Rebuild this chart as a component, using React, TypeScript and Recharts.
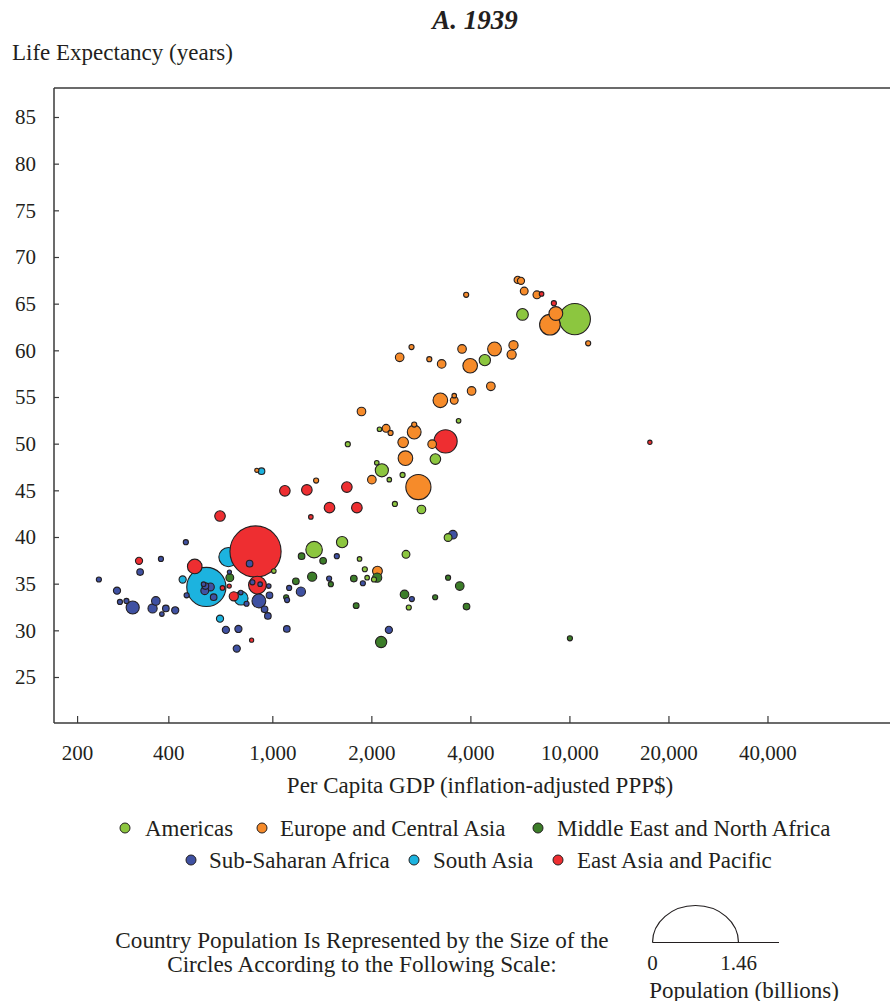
import React from 'react';
import { ScatterChart, Scatter, XAxis, YAxis, ZAxis, Cell, ReferenceLine } from 'recharts';

type Pt = { gdp: number; life: number; pop: number };

// ---- data (GDP per capita, life expectancy, population in millions)
const americas: Pt[] = [
  { gdp: 8280, life: 63.4, pop: 189 },
  { gdp: 5740, life: 63.9, pop: 24 },
  { gdp: 4410, life: 59.0, pop: 22 },
  { gdp: 3670, life: 52.5, pop: 1 },
  { gdp: 2110, life: 51.6, pop: 1 },
  { gdp: 3120, life: 48.4, pop: 19 },
  { gdp: 1690, life: 50.0, pop: 2 },
  { gdp: 2070, life: 48.0, pop: 1 },
  { gdp: 2145, life: 47.2, pop: 31 },
  { gdp: 2260, life: 46.2, pop: 1 },
  { gdp: 2480, life: 46.7, pop: 2 },
  { gdp: 2350, life: 43.6, pop: 2 },
  { gdp: 2830, life: 43.0, pop: 11.5 },
  { gdp: 3410, life: 40.0, pop: 9 },
  { gdp: 1335, life: 38.7, pop: 51 },
  { gdp: 1624, life: 39.5, pop: 22 },
  { gdp: 1835, life: 37.7, pop: 1 },
  { gdp: 1904, life: 36.6, pop: 2 },
  { gdp: 1935, life: 35.7, pop: 1 },
  { gdp: 2030, life: 35.5, pop: 2 },
  { gdp: 1007, life: 36.4, pop: 1 },
  { gdp: 2540, life: 38.2, pop: 9 },
  { gdp: 2590, life: 32.5, pop: 2 },
];

const europeCentralAsia: Pt[] = [
  { gdp: 5550, life: 67.6, pop: 7 },
  { gdp: 5680, life: 67.5, pop: 7 },
  { gdp: 5810, life: 66.4, pop: 9 },
  { gdp: 6350, life: 66.0, pop: 9 },
  { gdp: 3870, life: 66.0, pop: 2 },
  { gdp: 7250, life: 64.0, pop: 34.5 },
  { gdp: 6955, life: 62.8, pop: 81 },
  { gdp: 9090, life: 60.8, pop: 2 },
  { gdp: 2640, life: 60.4, pop: 2 },
  { gdp: 2430, life: 59.3, pop: 11.5 },
  { gdp: 2990, life: 59.1, pop: 2 },
  { gdp: 3260, life: 58.6, pop: 11.5 },
  { gdp: 3760, life: 60.2, pop: 11.5 },
  { gdp: 4720, life: 60.2, pop: 34.5 },
  { gdp: 5390, life: 60.6, pop: 13.6 },
  { gdp: 5320, life: 59.6, pop: 13.6 },
  { gdp: 3980, life: 58.4, pop: 39 },
  { gdp: 3230, life: 54.7, pop: 39 },
  { gdp: 3560, life: 54.7, pop: 9 },
  { gdp: 3560, life: 55.2, pop: 1 },
  { gdp: 4020, life: 55.7, pop: 11.5 },
  { gdp: 4600, life: 56.2, pop: 11.5 },
  { gdp: 2690, life: 52.1, pop: 2 },
  { gdp: 1860, life: 53.5, pop: 11.5 },
  { gdp: 2210, life: 51.7, pop: 9 },
  { gdp: 2280, life: 51.2, pop: 2 },
  { gdp: 2690, life: 51.3, pop: 34.5 },
  { gdp: 2490, life: 50.2, pop: 19 },
  { gdp: 3050, life: 50.0, pop: 11.5 },
  { gdp: 2530, life: 48.5, pop: 39 },
  { gdp: 2000, life: 46.2, pop: 11.5 },
  { gdp: 2770, life: 45.4, pop: 122 },
  { gdp: 1354, life: 46.1, pop: 2 },
  { gdp: 2080, life: 36.4, pop: 16 },
  { gdp: 894, life: 47.2, pop: 0.3 },
];

const middleEastNorthAfrica: Pt[] = [
  { gdp: 740, life: 35.7, pop: 9 },
  { gdp: 1223, life: 38.0, pop: 5.5 },
  { gdp: 1422, life: 37.5, pop: 5.5 },
  { gdp: 2076, life: 35.7, pop: 13.6 },
  { gdp: 1763, life: 35.6, pop: 5.5 },
  { gdp: 1317, life: 35.8, pop: 13.6 },
  { gdp: 1501, life: 35.0, pop: 2 },
  { gdp: 1175, life: 35.3, pop: 5.5 },
  { gdp: 1098, life: 33.6, pop: 2 },
  { gdp: 3410, life: 35.7, pop: 2 },
  { gdp: 3700, life: 34.8, pop: 11.5 },
  { gdp: 2514, life: 33.9, pop: 11.5 },
  { gdp: 3115, life: 33.6, pop: 2 },
  { gdp: 3880, life: 32.6, pop: 5.5 },
  { gdp: 1792, life: 32.7, pop: 3.5 },
  { gdp: 2134, life: 28.8, pop: 22 },
  { gdp: 8000, life: 29.2, pop: 2 },
];

const subSaharanAfrica: Pt[] = [
  { gdp: 3527, life: 40.3, pop: 11.5 },
  { gdp: 850, life: 37.2, pop: 5.5 },
  { gdp: 544, life: 39.5, pop: 2 },
  { gdp: 457, life: 37.7, pop: 2 },
  { gdp: 395, life: 36.3, pop: 5.5 },
  { gdp: 624, life: 34.8, pop: 5.5 },
  { gdp: 646, life: 34.7, pop: 9 },
  { gdp: 621, life: 34.3, pop: 9 },
  { gdp: 661, life: 33.6, pop: 5.5 },
  { gdp: 616, life: 35.0, pop: 1 },
  { gdp: 547, life: 33.8, pop: 2 },
  { gdp: 296, life: 35.5, pop: 2 },
  { gdp: 336, life: 34.3, pop: 7 },
  { gdp: 343, life: 33.1, pop: 2 },
  { gdp: 359, life: 33.2, pop: 2 },
  { gdp: 375, life: 32.5, pop: 31 },
  { gdp: 441, life: 33.2, pop: 11.5 },
  { gdp: 431, life: 32.4, pop: 13.6 },
  { gdp: 473, life: 32.4, pop: 5.5 },
  { gdp: 460, life: 31.8, pop: 1 },
  { gdp: 505, life: 32.2, pop: 7 },
  { gdp: 738, life: 36.3, pop: 0.3 },
  { gdp: 799, life: 34.1, pop: 1 },
  { gdp: 832, life: 32.9, pop: 2 },
  { gdp: 867, life: 35.2, pop: 2 },
  { gdp: 915, life: 35.0, pop: 1 },
  { gdp: 972, life: 34.8, pop: 1 },
  { gdp: 907, life: 33.2, pop: 34.5 },
  { gdp: 977, life: 33.8, pop: 5.5 },
  { gdp: 944, life: 32.3, pop: 5.5 },
  { gdp: 966, life: 31.6, pop: 5.5 },
  { gdp: 1121, life: 34.6, pop: 2 },
  { gdp: 1105, life: 33.3, pop: 2 },
  { gdp: 1103, life: 30.2, pop: 5.5 },
  { gdp: 720, life: 30.1, pop: 7 },
  { gdp: 786, life: 30.2, pop: 7 },
  { gdp: 777, life: 28.1, pop: 7 },
  { gdp: 1565, life: 38.0, pop: 2 },
  { gdp: 1878, life: 35.1, pop: 2 },
  { gdp: 1483, life: 35.6, pop: 2 },
  { gdp: 1217, life: 34.2, pop: 13.6 },
  { gdp: 2646, life: 33.4, pop: 2 },
  { gdp: 2253, life: 30.1, pop: 7 },
];

const southAsia: Pt[] = [
  { gdp: 628, life: 34.7, pop: 301 },
  { gdp: 733, life: 37.9, pop: 70 },
  { gdp: 532, life: 35.5, pop: 7 },
  { gdp: 801, life: 33.5, pop: 34.5 },
  { gdp: 691, life: 31.3, pop: 7 },
  { gdp: 924, life: 47.1, pop: 5.5 },
];

const eastAsiaPacific: Pt[] = [
  { gdp: 886, life: 38.5, pop: 515 },
  { gdp: 579, life: 36.9, pop: 39 },
  { gdp: 898, life: 34.9, pop: 59.5 },
  { gdp: 761, life: 33.7, pop: 13.6 },
  { gdp: 737, life: 34.8, pop: 0.3 },
  { gdp: 703, life: 34.6, pop: 1 },
  { gdp: 392, life: 37.5, pop: 7 },
  { gdp: 691, life: 42.3, pop: 19 },
  { gdp: 1088, life: 45.0, pop: 19 },
  { gdp: 1269, life: 45.1, pop: 19 },
  { gdp: 1679, life: 45.4, pop: 19 },
  { gdp: 1487, life: 43.2, pop: 19 },
  { gdp: 1801, life: 43.2, pop: 19 },
  { gdp: 1305, life: 42.2, pop: 1 },
  { gdp: 3351, life: 50.3, pop: 103 },
  { gdp: 6560, life: 66.1, pop: 1 },
  { gdp: 7150, life: 65.1, pop: 2 },
  { gdp: 862, life: 29.0, pop: 0.3 },
  { gdp: 14000, life: 50.2, pop: 0.5 },
];

const regionNames = [
  'Americas',
  'Europe and Central Asia',
  'Middle East and North Africa',
  'Sub-Saharan Africa',
  'South Asia',
  'East Asia and Pacific',
];
const regionData = [americas, europeCentralAsia, middleEastNorthAfrica, subSaharanAfrica, southAsia, eastAsiaPacific];
const regionColors = ['#8cc63f', '#f68b2a', '#3c7d29', '#3f51a2', '#1cb3df', '#ee2e31'];

const xTicks = [255, 483, 1000, 2000, 4000, 8000, 16000, 32000];
const xTickLabels = ['200', '400', '1,000', '2,000', '4,000', '10,000', '20,000', '40,000'];
const yTicks = [25, 30, 35, 40, 45, 50, 55, 60, 65, 70, 75, 80, 85];

const X_DOMAIN: [number, number] = [216.2, 75170];
const Y_DOMAIN: [number, number] = [20.125, 88.16];
const POP_MAX = 1460; // 1.46 billion

const FONT = '"Liberation Serif", "Times New Roman", serif';
const INK = '#231f20';
const AXIS = '#3a3a3a';

type Row = Pt & { region: number };
const allPoints: Row[] = regionData.flatMap((arr, region) => arr.map((p) => ({ ...p, region })));
// draw larger bubbles first so small ones stay visible; the very largest bubble sits just above mid-size ones
const drawKey = (p: Row) => (p.pop > 400 ? 65 : p.pop);
const drawList = [...allPoints].sort((a, b) => drawKey(b) - drawKey(a));

const XTick = (props: any) => {
  const { x, y, payload } = props;
  const i = xTicks.indexOf(payload.value);
  return (
    <g>
      <line x1={x} x2={x} y1={y} y2={y - 7} stroke={AXIS} strokeWidth={1.2} />
      <text x={x} y={y + 37} textAnchor="middle" fontFamily={FONT} fontSize={21} fill={INK}>
        {xTickLabels[i]}
      </text>
    </g>
  );
};

const YTick = (props: any) => {
  const { x, y, payload } = props;
  return (
    <g>
      <line x1={x} x2={x + 5} y1={y} y2={y} stroke={AXIS} strokeWidth={1.2} />
      <text x={x - 18} y={y + 7} textAnchor="end" fontFamily={FONT} fontSize={21} fill={INK}>
        {payload.value}
      </text>
    </g>
  );
};

const legendRows = [
  [
    { idx: 0, cx: 125, tx: 145 },
    { idx: 1, cx: 262, tx: 280 },
    { idx: 2, cx: 538, tx: 557 },
  ],
  [
    { idx: 3, cx: 191, tx: 209 },
    { idx: 4, cx: 414, tx: 433 },
    { idx: 5, cx: 558, tx: 577 },
  ],
];
const legendRowY = [829, 861];

export default function App() {
  return (
    <div
      style={{
        position: 'absolute',
        left: 0,
        top: 0,
        width: 890,
        height: 1001,
        overflow: 'hidden',
        background: '#fff',
      }}
    >
      <ScatterChart width={890} height={810} margin={{ top: 88, right: 0, bottom: 27, left: 0 }}>
        <XAxis
          dataKey="gdp"
          type="number"
          scale="log"
          domain={X_DOMAIN}
          allowDataOverflow
          ticks={xTicks}
          interval={0}
          tick={<XTick />}
          tickLine={false}
          tickSize={0}
          tickMargin={0}
          height={60}
          axisLine={{ stroke: AXIS, strokeWidth: 1.5 }}
        />
        <YAxis
          dataKey="life"
          type="number"
          domain={Y_DOMAIN}
          allowDataOverflow
          ticks={yTicks}
          interval={0}
          tick={<YTick />}
          tickLine={false}
          tickSize={0}
          tickMargin={0}
          width={54}
          axisLine={{ stroke: AXIS, strokeWidth: 1.5 }}
        />
        <ZAxis dataKey="pop" type="number" domain={[0, POP_MAX]} range={[4 * Math.PI, 43 * 43 * Math.PI]} />
        <ReferenceLine y={Y_DOMAIN[1]} stroke={AXIS} strokeWidth={1.5} />
        <Scatter data={drawList} isAnimationActive={false} stroke={INK} strokeWidth={1.1}>
          {drawList.map((p, i) => (
            <Cell key={i} fill={regionColors[p.region]} stroke={INK} strokeWidth={1.1} />
          ))}
        </Scatter>
      </ScatterChart>

      <svg
        width={890}
        height={1001}
        style={{ position: 'absolute', left: 0, top: 0, pointerEvents: 'none' }}
      >
        <text x={475} y={29} textAnchor="middle" fontFamily={FONT} fontSize={27} fontWeight="bold" fontStyle="italic" fill={INK}>
          A. 1939
        </text>
        <text x={12} y={60} fontFamily={FONT} fontSize={23} fill={INK}>
          Life Expectancy (years)
        </text>
        <text x={480} y={793} textAnchor="middle" fontFamily={FONT} fontSize={23} fill={INK}>
          Per Capita GDP (inflation-adjusted PPP$)
        </text>

        {legendRows.map((row, r) =>
          row.map((item) => (
            <g key={item.idx}>
              <circle cx={item.cx} cy={legendRowY[r] - 1} r={5} fill={regionColors[item.idx]} stroke={INK} strokeWidth={1} />
              <text x={item.tx} y={legendRowY[r] + 7} fontFamily={FONT} fontSize={23} fill={INK}>
                {regionNames[item.idx]}
              </text>
            </g>
          ))
        )}

        <text x={362} y={948} textAnchor="middle" fontFamily={FONT} fontSize={23.2} fill={INK}>
          Country Population Is Represented by the Size of the
        </text>
        <text x={362} y={972} textAnchor="middle" fontFamily={FONT} fontSize={23.2} fill={INK}>
          Circles According to the Following Scale:
        </text>

        <path d="M 652.5 942.5 A 43 37 0 0 1 738.5 942.5" fill="none" stroke={INK} strokeWidth={1.2} />
        <line x1={652.5} x2={779} y1={942.5} y2={942.5} stroke={INK} strokeWidth={1.2} />
        <text x={652.5} y={970} textAnchor="middle" fontFamily={FONT} fontSize={21} fill={INK}>
          0
        </text>
        <text x={738.5} y={970} textAnchor="middle" fontFamily={FONT} fontSize={21} fill={INK}>
          1.46
        </text>
        <text x={744} y={998} textAnchor="middle" fontFamily={FONT} fontSize={23} fill={INK}>
          Population (billions)
        </text>
      </svg>
    </div>
  );
}
